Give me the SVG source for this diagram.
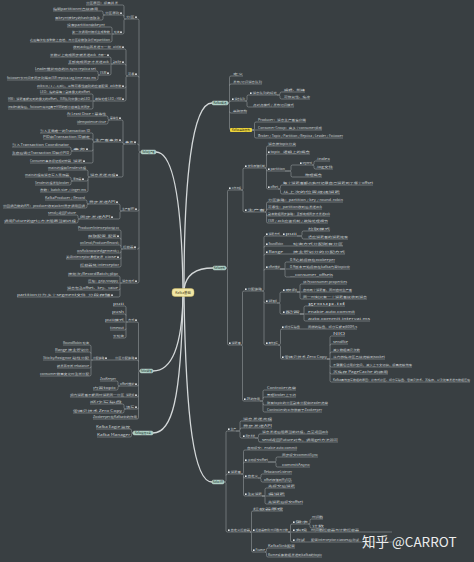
<svg xmlns="http://www.w3.org/2000/svg" width="474" height="562" viewBox="0 0 474 562">
<style>
.t{font-family:"Noto Sans CJK SC","Noto Sans",sans-serif;font-size:2.8px;fill:#cbd0d2}
.u{fill:none;stroke:#a4aaad;stroke-width:.5}
.c{fill:none;stroke:#a4aaad;stroke-width:.5}
.m{fill:none;stroke:#d4d8d9;stroke-width:1.3;stroke-linecap:round}
.k{fill:#e6e9ea}
.mn{fill:#a8ccc1;stroke:#d3e6e0;stroke-width:.4}
.mt{font-family:"Noto Sans CJK SC","Noto Sans",sans-serif;font-size:2.8px;fill:#24332f;text-anchor:middle}
</style>
<defs><rect id="mk" class="k" width="1.6" height="1.6"/></defs>
<rect width="474" height="562" fill="#393f42"/>
<g id="connectors">
<path class="m" d="M183 289C182 220 176 152 156 152"/>
<path class="m" d="M184 289C184 180 192 103 212 103"/>
<path class="m" d="M184 289C186 274 196 268 213 268"/>
<path class="m" d="M183 296C182 345 172 371 153 371"/>
<path class="m" d="M183 296C181 400 172 433 153 433"/>
<path class="m" d="M184 296C186 420 194 482 212 482"/>
<path class="c" d="M141 152H140.5Q139 152 139 150.5V20.5Q139 19 137.5 19H137M141 152H140.5Q139 152 139 153.5V281.5Q139 283 137.5 283H137M139 77.5Q139 76 137.5 76H137M139 145.5Q139 144 137.5 144H137M139 209.5Q139 211 137.5 211H137M139 247.5Q139 249 137.5 249H137"/>
<path class="c" d="M126 19H125.5Q124 19 124 17.5V6.5Q124 5 122.5 5H118M126 19H125.5Q124 19 124 20.5V32.5Q124 34 122.5 34H122M124 16.5Q124 15 122.5 15H122"/>
<path class="c" d="M105 15H104.5Q103 15 103 13.5V12.5Q103 11 101.5 11H98M105 15H104.5Q103 15 103 16.5V18.5Q103 20 101.5 20H100"/>
<path class="c" d="M114 34H113.5Q112 34 112 32.5V28.5Q112 27 110.5 27H105M114 34H113.5Q112 34 112 35.5V40.5Q112 42 110.5 42H110M112 34H110"/>
<path class="c" d="M128 76H127.5Q126 76 126 74.5V50.5Q126 49 124.5 49H124M128 76H127.5Q126 76 126 77.5V99.5Q126 101 124.5 101H124M126 65.5Q126 64 124.5 64H124M126 86.5Q126 88 124.5 88H124"/>
<path class="c" d="M113 49H111M98 57H96M110 88H108"/>
<path class="c" d="M113 64H112.5Q111 64 111 62.5V58.5Q111 57 109.5 57H109M113 64H112.5Q111 64 111 65.5V73.5Q111 75 109.5 75H109M111 64H109"/>
<path class="c" d="M100 75H99.5Q98 75 98 73.5V72.5Q98 71 96.5 71H96M100 75H99.5Q98 75 98 76.5V78.5Q98 80 96.5 80H96"/>
<path class="c" d="M95 101H94.5Q93 101 93 99.5V95.5Q93 94 91.5 94H90M95 101H94.5Q93 101 93 102.5V107.5Q93 109 91.5 109H90M93 101H90"/>
<path class="c" d="M125 144H124.5Q123 144 123 142.5V121.5Q123 120 121.5 120H121M125 144H124.5Q123 144 123 145.5V175.5Q123 177 121.5 177H118M123 143.5Q123 142 121.5 142H121"/>
<path class="c" d="M110 120H109.5Q108 120 108 118.5V117.5Q108 116 106.5 116H106M110 120H109.5Q108 120 108 121.5V122.5Q108 124 106.5 124H106"/>
<path class="c" d="M95 142H94.5Q93 142 93 140.5V134.5Q93 133 91.5 133H90M95 142H94.5Q93 142 93 143.5V161.5Q93 163 91.5 163H85M93 140.5Q93 139 91.5 139H90M93 149.5Q93 151 91.5 151H88"/>
<path class="c" d="M73 151H72.5Q71 151 71 149.5V148.5Q71 147 69.5 147H69M73 151H72.5Q71 151 71 152.5V153.5Q71 155 69.5 155H69M73 163H71"/>
<path class="c" d="M90 177H89.5Q88 177 88 175.5V171.5Q88 170 86.5 170H86M90 177H89.5Q88 177 88 178.5V190.5Q88 192 86.5 192H86M88 179.5Q88 181 86.5 181H84"/>
<path class="c" d="M73 181H72.5Q71 181 71 179.5V178.5Q71 177 69.5 177H69M73 181H72.5Q71 181 71 182.5V183.5Q71 185 69.5 185H69"/>
<path class="c" d="M122 211H121.5Q120 211 120 209.5V205.5Q120 204 118.5 204H118M122 211H121.5Q120 211 120 212.5V217.5Q120 219 118.5 219H113"/>
<path class="c" d="M89 204H88.5Q87 204 87 202.5V201.5Q87 200 85.5 200H85M89 204H88.5Q87 204 87 205.5V206.5Q87 208 85.5 208H85"/>
<path class="c" d="M80 219H79.5Q78 219 78 217.5V216.5Q78 215 76.5 215H76M80 219H79.5Q78 219 78 220.5V221.5Q78 223 76.5 223H76"/>
<path class="c" d="M123 249H122.5Q121 249 121 247.5V231.5Q121 230 119.5 230H119M123 249H122.5Q121 249 121 250.5V265.5Q121 267 119.5 267H119M121 239.5Q121 238 119.5 238H119M121 246.5Q121 245 119.5 245H119M121 251.5Q121 253 119.5 253H119M121 257.5Q121 259 119.5 259H119M108 238H106M105 259H103"/>
<path class="c" d="M122 283H121.5Q120 283 120 281.5V277.5Q120 276 118.5 276H118M122 283H121.5Q120 283 120 284.5V295.5Q120 297 118.5 297H113M120 283H118M120 288.5Q120 290 118.5 290H118M88 297H86"/>
<path class="c" d="M140 371Q138.5 371 138.5 369.5V323.5Q138.5 322 137 322M140 371Q138.5 371 138.5 372.5V417.5Q138.5 419 137 419M138.5 361.5Q138.5 360 137 360M138.5 384.5Q138.5 386 137 386M138.5 395.5Q138.5 397 137 397M138.5 407.5Q138.5 409 137 409"/>
<path class="c" d="M128 322H127.5Q126 322 126 320.5V307.5Q126 306 124.5 306H124M128 322H127.5Q126 322 126 323.5V336.5Q126 338 124.5 338H124M126 322H124M126 315.5Q126 314 124.5 314H124M126 328.5Q126 330 124.5 330H124"/>
<path class="c" d="M115 360H107M93 360H92.5Q91 360 91 358.5V346.5Q91 345 89.5 345H89M93 360H92.5Q91 360 91 361.5V374.5Q91 376 89.5 376H89M91 360H89M91 353.5Q91 352 89.5 352H89M91 366.5Q91 368 89.5 368H89"/>
<path class="c" d="M120 386H119.5Q118 386 118 384.5V382.5Q118 381 116.5 381H116M120 386H119.5Q118 386 118 387.5V388.5Q118 390 116.5 390H116M126 397H124"/>
<path class="c" d="M126 409H125.5Q124 409 124 407.5V405.5Q124 404 122.5 404H122M126 409H125.5Q124 409 124 410.5V411.5Q124 413 122.5 413H122"/>
<path class="c" d="M133 433Q131.5 433 131.5 431.5V430.5Q131.5 429 130 429M133 433Q131.5 433 131.5 434.5V435.5Q131.5 437 130 437"/>
<path class="c" d="M228 103Q229.5 103 229.5 101.5V77.5Q229.5 76 231 76H233M228 103Q229.5 103 229.5 104.5V128.5Q229.5 130 231 130M229.5 85.5Q229.5 84 231 84H233M229.5 102.5Q229.5 101 231 101H232M229.5 111.5Q229.5 113 231 113H233"/>
<path class="c" d="M245 101H245.5Q247 101 247 99.5V96.5Q247 95 248.5 95H250M245 101H245.5Q247 101 247 102.5V105.5Q247 107 248.5 107H253"/>
<path class="c" d="M277 95H278.5Q280 95 280 93.5Q280 92 281.5 92H284M277 95H278.5Q280 95 280 96.5V97.5Q280 99 281.5 99H284"/>
<path class="c" d="M252 130H253Q254.5 130 254.5 128.5V123.5Q254.5 122 256 122H258M252 130H253Q254.5 130 254.5 131.5V136.5Q254.5 138 256 138H258M252 130H258"/>
<path class="c" d="M226 268Q227.5 268 227.5 266.5V191.5Q227.5 190 229 190M226 268Q227.5 268 227.5 269.5V343.5Q227.5 345 229 345"/>
<path class="c" d="M241 190H241.5Q243 190 243 188.5V169.5Q243 168 244.5 168H245M241 190H241.5Q243 190 243 191.5V210.5Q243 212 244.5 212H245"/>
<path class="c" d="M265 168Q266.5 168 266.5 166.5V147.5Q266.5 146 268 146M265 168Q266.5 168 266.5 169.5V187.5Q266.5 189 268 189M266.5 155.5Q266.5 154 268 154M266.5 169.5Q266.5 171 268 171M280 154H283"/>
<path class="c" d="M285 171H289.5Q291 171 291 169.5V166.5Q291 165 292.5 165H300M285 171H289.5Q291 171 291 172.5V175.5Q291 177 292.5 177H305"/>
<path class="c" d="M312 165H312.5Q314 165 314 163.5V162.5Q314 161 315.5 161H316M312 165H312.5Q314 165 314 166.5V167.5Q314 169 315.5 169H316"/>
<path class="c" d="M278 189H279Q280.5 189 280.5 187.5V186.5Q280.5 185 282 185H283M278 189H279Q280.5 189 280.5 190.5V192.5Q280.5 194 282 194H283"/>
<path class="c" d="M265 212Q266.5 212 266.5 210.5V203.5Q266.5 202 268 202M265 212Q266.5 212 266.5 213.5V221.5Q266.5 223 268 223M266.5 210.5Q266.5 209 268 209M266.5 214.5Q266.5 216 268 216"/>
<path class="c" d="M241 345Q242.5 345 242.5 343.5V292.5Q242.5 291 244 291H245M241 345Q242.5 345 242.5 346.5V399.5Q242.5 401 244 401"/>
<path class="c" d="M262 291H262.5Q264 291 264 289.5V237.5Q264 236 265.5 236H266M262 291H262.5Q264 291 264 292.5V343.5Q264 345 265.5 345H266M264 247.5Q264 246 265.5 246H266M264 255.5Q264 254 265.5 254H266M264 270.5Q264 269 265.5 269H266M264 301.5Q264 303 265.5 303H266"/>
<path class="c" d="M280 236H283M297 236H300.5Q302 236 302 234.5V232.5Q302 231 303.5 231H308M297 236H300.5Q302 236 302 237.5Q302 239 303.5 239H308M283 246H293M283 254H293"/>
<path class="c" d="M280 269H283.5Q285 269 285 267.5V263.5Q285 262 286.5 262H290M280 269H283.5Q285 269 285 270.5V275.5Q285 277 286.5 277H290M280 269H290"/>
<path class="c" d="M277 303H278.5Q280 303 280 301.5V293.5Q280 292 281.5 292H283M277 303H278.5Q280 303 280 304.5V312.5Q280 314 281.5 314H283"/>
<path class="c" d="M297 292H298.5Q300 292 300 290.5V285.5Q300 284 301.5 284H303M297 292H298.5Q300 292 300 293.5V297.5Q300 299 301.5 299H303M297 292H303"/>
<path class="c" d="M300 314H302.5Q304 314 304 312.5V307.5Q304 306 305.5 306H308M300 314H302.5Q304 314 304 315.5V319.5Q304 321 305.5 321H308M300 314H308"/>
<path class="c" d="M278 345Q280.5 345 280.5 343.5V330.5Q280.5 329 282 329M278 345Q280.5 345 280.5 346.5V357.5Q280.5 359 282 359M300 329H308"/>
<path class="c" d="M327 359H328.5Q330 359 330 357.5V337.5Q330 336 331.5 336H333M327 359H328.5Q330 359 330 360.5V380.5Q330 382 331.5 382H333M327 359H333M330 345.5Q330 344 331.5 344H333M330 353.5Q330 352 331.5 352H333M330 365.5Q330 367 331.5 367H333M330 372.5Q330 374 331.5 374H333"/>
<path class="c" d="M260 401H261.5Q263 401 263 399.5V391.5Q263 390 264.5 390H267M260 401H261.5Q263 401 263 402.5V410.5Q263 412 264.5 412H267M263 398.5Q263 397 264.5 397H267M263 403.5Q263 405 264.5 405H267"/>
<path class="c" d="M224 482H224.5Q226 482 226 480.5V432.5Q226 431 227.5 431H228M224 482H224.5Q226 482 226 483.5V530.5Q226 532 227.5 532H228M226 475.5Q226 474 227.5 474H228"/>
<path class="c" d="M236 431H238.5Q240 431 240 429.5V422.5Q240 421 241.5 421H243M236 431H238.5Q240 431 240 432.5V436.5Q240 438 241.5 438H243M240 429.5Q240 428 241.5 428H243"/>
<path class="c" d="M255 438H257Q258.5 438 258.5 436.5V435.5Q258.5 434 260 434H262M255 438H257Q258.5 438 258.5 439.5V440.5Q258.5 442 260 442H262"/>
<path class="c" d="M241 474H242Q243.5 474 243.5 472.5V451.5Q243.5 450 245 450H247M241 474H242Q243.5 474 243.5 475.5V494.5Q243.5 496 245 496M243.5 463.5Q243.5 462 245 462M243.5 476.5Q243.5 478 245 478"/>
<path class="c" d="M268 462H274.5Q276 462 276 460.5V458.5Q276 457 277.5 457H282M268 462H274.5Q276 462 276 463.5V465.5Q276 467 277.5 467H282"/>
<path class="c" d="M258 478H259.5Q261 478 261 476.5V475.5Q261 474 262.5 474H264M258 478H259.5Q261 478 261 479.5V480.5Q261 482 262.5 482H264"/>
<path class="c" d="M262 496H263.5Q265 496 265 494.5V489.5Q265 488 266.5 488H268M262 496H263.5Q265 496 265 497.5V502.5Q265 504 266.5 504H268M262 496H268"/>
<path class="c" d="M250 532Q251.5 532 251.5 530.5V512.5Q251.5 511 253 511M250 532Q251.5 532 251.5 533.5V550.5Q251.5 552 253 552M250 532H253"/>
<path class="c" d="M288 532H289Q290.5 532 290.5 530.5V525.5Q290.5 524 292 524H293M288 532H289Q290.5 532 290.5 533.5V540.5Q290.5 542 292 542H293M288 532H293M307 532H311M305 542H311"/>
<path class="c" d="M308 524H308.5Q310 524 310 522.5V520.5Q310 519 311.5 519H312M308 524H308.5Q310 524 310 525.5V526.5Q310 528 311.5 528H312"/>
<path class="c" d="M265 552Q266.5 552 266.5 550.5V549.5Q266.5 548 268 548M265 552Q266.5 552 266.5 553.5V555.5Q266.5 557 268 557"/>
</g>

<g id="center"><rect x="172" y="288.5" width="22" height="8" rx="3" fill="#f2e7a5" stroke="#cdb862" stroke-width=".5"/><text x="183" y="293.6" font-family="Noto Sans CJK SC, sans-serif" font-size="3.4" fill="#4a4322" text-anchor="middle">Kafka基础</text></g>
<g id="main-L1"><rect class="mn" x="141" y="150" width="15" height="4" rx="1.5"/><text class="mt" x="148.5" y="153" textLength="12" lengthAdjust="spacingAndGlyphs">Kafka生产者</text></g>
<g id="main-L2"><rect class="mn" x="140" y="369" width="13" height="4" rx="1.5"/><text class="mt" x="146.5" y="372" textLength="11" lengthAdjust="spacingAndGlyphs">Kafka消费者</text></g>
<g id="main-L3"><rect class="mn" x="133" y="431" width="20" height="4" rx="1.5"/><text class="mt" x="143" y="434" textLength="16" lengthAdjust="spacingAndGlyphs">Kafka监控工具</text></g>
<g id="main-R1"><rect class="mn" x="212" y="101" width="16" height="4" rx="1.5"/><text class="mt" x="220" y="104" textLength="13" lengthAdjust="spacingAndGlyphs">Kafka概述</text></g>
<g id="main-R2"><rect class="mn" x="213" y="266" width="13" height="4" rx="1.5"/><text class="mt" x="219.5" y="269" textLength="11" lengthAdjust="spacingAndGlyphs">Kafka架构</text></g>
<g id="main-R3"><rect class="mn" x="212" y="480" width="12" height="4" rx="1.5"/><text class="mt" x="218" y="483" textLength="10" lengthAdjust="spacingAndGlyphs">Kafka API</text></g>

<g id="L1-nodes">
<g id="a"><path class="u" d="M126 19H137"/><use href="#mk" x="135.2" y="16.4"/><text class="t" x="126" y="18.2" textLength="8.4" lengthAdjust="spacingAndGlyphs">分区</text></g>
<g id="a1"><path class="u" d="M86 5H118"/><text class="t" x="86" y="4.2" textLength="32" lengthAdjust="spacingAndGlyphs">分区原因：提高并发</text></g>
<g id="a2"><path class="u" d="M105 15H122"/><use href="#mk" x="120.2" y="12.4"/><text class="t" x="105" y="14.2" textLength="14.4" lengthAdjust="spacingAndGlyphs">分区原则</text></g>
<g id="a2-1"><path class="u" d="M53 11H98"/><text class="t" x="53" y="10.2" textLength="45" lengthAdjust="spacingAndGlyphs">指明partition时直接使用</text></g>
<g id="a2-2"><path class="u" d="M55 20H100"/><text class="t" x="55" y="19.2" textLength="45" lengthAdjust="spacingAndGlyphs">有key时按key的hash值取余</text></g>
<g id="a3"><path class="u" d="M114 34H122"/><use href="#mk" x="120.2" y="31.4"/><text class="t" x="114" y="33.2" textLength="5.4" lengthAdjust="spacingAndGlyphs">轮询</text></g>
<g id="a3-1"><path class="u" d="M67 27H105"/><text class="t" x="67" y="26.2" textLength="38" lengthAdjust="spacingAndGlyphs">没有partition和key时</text></g>
<g id="a3-2"><path class="u" d="M72 34H110"/><text class="t" x="72" y="33.2" textLength="38" lengthAdjust="spacingAndGlyphs">第一次调用时随机生成整数</text></g>
<g id="a3-3"><path class="u" d="M30 42H110"/><text class="t" x="30" y="41.2" textLength="80" lengthAdjust="spacingAndGlyphs">之后每次在该整数上自增，与分区总数取余得到partition</text></g>
<g id="b"><path class="u" d="M128 76H137"/><use href="#mk" x="135.2" y="73.4"/><text class="t" x="128" y="75.2" textLength="6.4" lengthAdjust="spacingAndGlyphs">可靠</text></g>
<g id="b1"><path class="u" d="M113 49H124"/><use href="#mk" x="122.2" y="46.4"/><text class="t" x="113" y="48.2" textLength="8.4" lengthAdjust="spacingAndGlyphs">ack机制</text></g>
<g id="b1-1"><path class="u" d="M73 49H111"/><text class="t" x="73" y="48.2" textLength="38" lengthAdjust="spacingAndGlyphs">收到ack后再发送下一批</text></g>
<g id="b2"><path class="u" d="M113 64H124"/><use href="#mk" x="122.2" y="61.4"/><text class="t" x="113" y="63.2" textLength="8.4" lengthAdjust="spacingAndGlyphs">副本同步</text></g>
<g id="b2a"><path class="u" d="M98 57H109"/><use href="#mk" x="107.2" y="54.4"/><text class="t" x="98" y="56.2" textLength="8.4" lengthAdjust="spacingAndGlyphs">方案一</text></g>
<g id="b2a-1"><path class="u" d="M50 57H96"/><text class="t" x="50" y="56.2" textLength="46" lengthAdjust="spacingAndGlyphs">半数以上完成同步就发送ack</text></g>
<g id="b2-2"><path class="u" d="M68 64H109"/><text class="t" x="68" y="63.2" textLength="41" lengthAdjust="spacingAndGlyphs">全部完成同步才发送ack</text></g>
<g id="b2b"><path class="u" d="M100 75H109"/><use href="#mk" x="107.2" y="72.4"/><text class="t" x="100" y="74.2" textLength="6.4" lengthAdjust="spacingAndGlyphs">ISR</text></g>
<g id="b2b-1"><path class="u" d="M35 71H96"/><text class="t" x="35" y="70.2" textLength="61" lengthAdjust="spacingAndGlyphs">Leader维护动态的in-sync replica set</text></g>
<g id="b2b-2"><path class="u" d="M7 80H96"/><text class="t" x="7" y="79.2" textLength="89" lengthAdjust="spacingAndGlyphs">follower长时间未同步则踢出ISR replica.lag.time.max.ms</text></g>
<g id="b3"><path class="u" d="M110 88H124"/><use href="#mk" x="122.2" y="85.4"/><text class="t" x="110" y="87.2" textLength="11.4" lengthAdjust="spacingAndGlyphs">ack参数</text></g>
<g id="b3-1"><path class="u" d="M37 88H108"/><text class="t" x="37" y="87.2" textLength="71" lengthAdjust="spacingAndGlyphs">acks=0 / 1 / -1(all)，三种可靠性级别的应答配置</text></g>
<g id="b4"><path class="u" d="M95 101H124"/><use href="#mk" x="122.2" y="98.4"/><text class="t" x="95" y="100.2" textLength="26.4" lengthAdjust="spacingAndGlyphs">故障处理 LEO / HW</text></g>
<g id="b4-1"><path class="u" d="M40 94H90"/><text class="t" x="40" y="93.2" textLength="50" lengthAdjust="spacingAndGlyphs">LEO：指的是每个副本最大的offset</text></g>
<g id="b4-2"><path class="u" d="M8 101H90"/><text class="t" x="8" y="100.2" textLength="82" lengthAdjust="spacingAndGlyphs">HW：消费者能见到的最大的offset，ISR队列中最小的LEO</text></g>
<g id="b4-3"><path class="u" d="M8 109H90"/><text class="t" x="8" y="108.2" textLength="82" lengthAdjust="spacingAndGlyphs">leader故障后，follower将log高于HW的部分截掉重新同步</text></g>
<g id="c"><path class="u" d="M125 144H136"/><use href="#mk" x="134.2" y="141.4"/><text class="t" x="125" y="143.2" textLength="8.4" lengthAdjust="spacingAndGlyphs">事务</text></g>
<g id="c1"><path class="u" d="M110 120H121"/><use href="#mk" x="119.2" y="117.4"/><text class="t" x="110" y="119.2" textLength="8.4" lengthAdjust="spacingAndGlyphs">幂等性</text></g>
<g id="c1-1"><path class="u" d="M67 116H106"/><text class="t" x="67" y="115.2" textLength="39" lengthAdjust="spacingAndGlyphs">At Least Once + 幂等性</text></g>
<g id="c1-2"><path class="u" d="M77 124H106"/><text class="t" x="77" y="123.2" textLength="29" lengthAdjust="spacingAndGlyphs">idempotence=true</text></g>
<g id="c2"><path class="u" d="M95 142H121"/><use href="#mk" x="119.2" y="139.4"/><text class="t" x="95" y="141.2" textLength="23.4" lengthAdjust="spacingAndGlyphs">生产者事务</text></g>
<g id="c2-1"><path class="u" d="M40 133H90"/><text class="t" x="40" y="132.2" textLength="50" lengthAdjust="spacingAndGlyphs">引入全局唯一的Transaction ID</text></g>
<g id="c2-2"><path class="u" d="M43 139H90"/><text class="t" x="43" y="138.2" textLength="47" lengthAdjust="spacingAndGlyphs">PID和Transaction ID绑定</text></g>
<g id="c2a"><path class="u" d="M73 151H88"/><use href="#mk" x="86.2" y="148.4"/><text class="t" x="73" y="150.2" textLength="12.4" lengthAdjust="spacingAndGlyphs">事务</text></g>
<g id="c2a-1"><path class="u" d="M12 147H69"/><text class="t" x="12" y="146.2" textLength="57" lengthAdjust="spacingAndGlyphs">引入Transaction Coordinator</text></g>
<g id="c2a-2"><path class="u" d="M12 155H69"/><text class="t" x="12" y="154.2" textLength="57" lengthAdjust="spacingAndGlyphs">重启后通过Transaction ID获得PID</text></g>
<g id="c2b"><path class="u" d="M73 163H85"/><use href="#mk" x="83.2" y="160.4"/><text class="t" x="73" y="162.2" textLength="9.4" lengthAdjust="spacingAndGlyphs">消费</text></g>
<g id="c2b-1"><path class="u" d="M30 163H71"/><text class="t" x="30" y="162.2" textLength="41" lengthAdjust="spacingAndGlyphs">Consumer事务保证相对较弱</text></g>
<g id="d1"><path class="u" d="M90 177H118"/><use href="#mk" x="116.2" y="174.4"/><text class="t" x="90" y="176.2" textLength="25.4" lengthAdjust="spacingAndGlyphs">消息发送流程</text></g>
<g id="d1-1"><path class="u" d="M48 170H86"/><text class="t" x="48" y="169.2" textLength="38" lengthAdjust="spacingAndGlyphs">main线程和Sender线程</text></g>
<g id="d1a"><path class="u" d="M73 181H84"/><use href="#mk" x="82.2" y="178.4"/><text class="t" x="73" y="180.2" textLength="8.4" lengthAdjust="spacingAndGlyphs">累加器</text></g>
<g id="d1a-1"><path class="u" d="M25 177H69"/><text class="t" x="25" y="176.2" textLength="44" lengthAdjust="spacingAndGlyphs">main线程将消息写入累加器</text></g>
<g id="d1a-2"><path class="u" d="M35 185H69"/><text class="t" x="35" y="184.2" textLength="34" lengthAdjust="spacingAndGlyphs">Sender线程发往broker</text></g>
<g id="d1-3"><path class="u" d="M40 192H86"/><text class="t" x="40" y="191.2" textLength="46" lengthAdjust="spacingAndGlyphs">参数：batch.size / linger.ms</text></g>
<g id="d"><path class="u" d="M122 211H137"/><use href="#mk" x="135.2" y="208.4"/><text class="t" x="122" y="210.2" textLength="12.4" lengthAdjust="spacingAndGlyphs">生产者API</text></g>
<g id="d2"><path class="u" d="M89 204H118"/><use href="#mk" x="116.2" y="201.4"/><text class="t" x="89" y="203.2" textLength="26.4" lengthAdjust="spacingAndGlyphs">异步发送API</text></g>
<g id="d2-1"><path class="u" d="M45 200H85"/><text class="t" x="45" y="199.2" textLength="40" lengthAdjust="spacingAndGlyphs">KafkaProducer / Record</text></g>
<g id="d2-2"><path class="u" d="M3 208H85"/><text class="t" x="3" y="207.2" textLength="82" lengthAdjust="spacingAndGlyphs">带回调函数的API：producer收到ack时异步调用回调</text></g>
<g id="d3"><path class="u" d="M80 219H113"/><use href="#mk" x="111.2" y="216.4"/><text class="t" x="80" y="218.2" textLength="30.4" lengthAdjust="spacingAndGlyphs">同步发送API</text></g>
<g id="d3-1"><path class="u" d="M48 215H76"/><text class="t" x="48" y="214.2" textLength="28" lengthAdjust="spacingAndGlyphs">send()返回Future</text></g>
<g id="d3-2"><path class="u" d="M4 223H76"/><text class="t" x="4" y="222.2" textLength="72" lengthAdjust="spacingAndGlyphs">调用Future的get()方法阻塞当前线程</text></g>
<g id="e"><path class="u" d="M123 249H136"/><use href="#mk" x="134.2" y="246.4"/><text class="t" x="123" y="248.2" textLength="10.4" lengthAdjust="spacingAndGlyphs">拦截器</text></g>
<g id="e-1"><path class="u" d="M78 230H119"/><text class="t" x="78" y="229.2" textLength="41" lengthAdjust="spacingAndGlyphs">ProducerInterceptor接口</text></g>
<g id="e1"><path class="u" d="M108 238H119"/><use href="#mk" x="117.2" y="235.4"/><text class="t" x="108" y="237.2" textLength="8.4" lengthAdjust="spacingAndGlyphs">配置</text></g>
<g id="e1-1"><path class="u" d="M88 238H106"/><text class="t" x="88" y="237.2" textLength="18" lengthAdjust="spacingAndGlyphs">获取配置</text></g>
<g id="e-3"><path class="u" d="M80 245H119"/><text class="t" x="80" y="244.2" textLength="39" lengthAdjust="spacingAndGlyphs">onSend(ProducerRecord)</text></g>
<g id="e-4"><path class="u" d="M77 253H119"/><text class="t" x="77" y="252.2" textLength="42" lengthAdjust="spacingAndGlyphs">onAcknowledgement()</text></g>
<g id="e2"><path class="u" d="M105 259H119"/><use href="#mk" x="117.2" y="256.4"/><text class="t" x="105" y="258.2" textLength="11.4" lengthAdjust="spacingAndGlyphs">close</text></g>
<g id="e2-1"><path class="u" d="M66 259H103"/><text class="t" x="66" y="258.2" textLength="37" lengthAdjust="spacingAndGlyphs">关闭interceptor清理资源</text></g>
<g id="e-6"><path class="u" d="M80 267H119"/><text class="t" x="80" y="266.2" textLength="39" lengthAdjust="spacingAndGlyphs">拦截器链 interceptor</text></g>
<g id="f"><path class="u" d="M122 283H137"/><use href="#mk" x="135.2" y="280.4"/><text class="t" x="122" y="282.2" textLength="12.4" lengthAdjust="spacingAndGlyphs">消息格式</text></g>
<g id="f-1"><path class="u" d="M68 276H118"/><text class="t" x="68" y="275.2" textLength="50" lengthAdjust="spacingAndGlyphs">按批次(RecordBatch)组织</text></g>
<g id="f-2"><path class="u" d="M88 283H118"/><text class="t" x="88" y="282.2" textLength="30" lengthAdjust="spacingAndGlyphs">压缩：gzip/snappy</text></g>
<g id="f-3"><path class="u" d="M67 290H118"/><text class="t" x="67" y="289.2" textLength="51" lengthAdjust="spacingAndGlyphs">消息包含offset、key、value</text></g>
<g id="f1"><path class="u" d="M88 297H113"/><use href="#mk" x="111.2" y="294.4"/><text class="t" x="88" y="296.2" textLength="22.4" lengthAdjust="spacingAndGlyphs">分段存储</text></g>
<g id="f1-1"><path class="u" d="M17 297H86"/><text class="t" x="17" y="296.2" textLength="69" lengthAdjust="spacingAndGlyphs">partition分为多个segment文件</text></g>
</g>

<g id="L2-nodes">
<g id="g"><path class="u" d="M128 322H137"/><use href="#mk" x="135.2" y="319.4"/><text class="t" x="128" y="321.2" textLength="6.4" lengthAdjust="spacingAndGlyphs">方式</text></g>
<g id="g-1"><path class="u" d="M113 306H124"/><text class="t" x="113" y="305.2" textLength="11" lengthAdjust="spacingAndGlyphs">pull</text></g>
<g id="g-2"><path class="u" d="M112 314H124"/><text class="t" x="112" y="313.2" textLength="12" lengthAdjust="spacingAndGlyphs">push</text></g>
<g id="g-3"><path class="u" d="M105 322H124"/><text class="t" x="105" y="321.2" textLength="19" lengthAdjust="spacingAndGlyphs">pull模式</text></g>
<g id="g-4"><path class="u" d="M110 330H124"/><text class="t" x="110" y="329.2" textLength="14" lengthAdjust="spacingAndGlyphs">timeout</text></g>
<g id="g-5"><path class="u" d="M113 338H124"/><text class="t" x="113" y="337.2" textLength="11" lengthAdjust="spacingAndGlyphs">长轮询</text></g>
<g id="h"><path class="u" d="M115 360H137"/><use href="#mk" x="135.2" y="357.4"/><text class="t" x="115" y="359.2" textLength="19.4" lengthAdjust="spacingAndGlyphs">分区分配策略</text></g>
<g id="h1"><path class="u" d="M93 360H107"/><use href="#mk" x="105.2" y="357.4"/><text class="t" x="93" y="359.2" textLength="11.4" lengthAdjust="spacingAndGlyphs">分配策略</text></g>
<g id="h1-1"><path class="u" d="M63 345H89"/><text class="t" x="63" y="344.2" textLength="26" lengthAdjust="spacingAndGlyphs">RoundRobin 轮询</text></g>
<g id="h1-2"><path class="u" d="M55 352H89"/><text class="t" x="55" y="351.2" textLength="34" lengthAdjust="spacingAndGlyphs">Range 按主题划分</text></g>
<g id="h1-3"><path class="u" d="M43 360H89"/><text class="t" x="43" y="359.2" textLength="46" lengthAdjust="spacingAndGlyphs">StickyAssignor 粘性分配</text></g>
<g id="h1-4"><path class="u" d="M57 368H89"/><text class="t" x="57" y="367.2" textLength="32" lengthAdjust="spacingAndGlyphs">触发再平衡 rebalance</text></g>
<g id="h1-5"><path class="u" d="M40 376H89"/><text class="t" x="40" y="375.2" textLength="49" lengthAdjust="spacingAndGlyphs">consumer数量变化时重新分配</text></g>
<g id="i"><path class="u" d="M120 386H137"/><use href="#mk" x="135.2" y="383.4"/><text class="t" x="120" y="385.2" textLength="14.4" lengthAdjust="spacingAndGlyphs">offset维护</text></g>
<g id="i-1"><path class="u" d="M100 381H116"/><text class="t" x="100" y="380.2" textLength="16" lengthAdjust="spacingAndGlyphs">ZooKeeper</text></g>
<g id="i-2"><path class="u" d="M93 390H116"/><text class="t" x="93" y="389.2" textLength="23" lengthAdjust="spacingAndGlyphs">内置topic</text></g>
<g id="j"><path class="u" d="M126 397H137"/><use href="#mk" x="135.2" y="394.4"/><text class="t" x="126" y="396.2" textLength="8.4" lengthAdjust="spacingAndGlyphs">消费组</text></g>
<g id="j-1"><path class="u" d="M70 397H124"/><text class="t" x="70" y="396.2" textLength="54" lengthAdjust="spacingAndGlyphs">组内消费者不能同时消费同一分区</text></g>
<g id="k"><path class="u" d="M126 409H137"/><use href="#mk" x="135.2" y="406.4"/><text class="t" x="126" y="408.2" textLength="8.4" lengthAdjust="spacingAndGlyphs">读写</text></g>
<g id="k-1"><path class="u" d="M90 404H122"/><text class="t" x="90" y="403.2" textLength="32" lengthAdjust="spacingAndGlyphs">顺序写磁盘</text></g>
<g id="k-2"><path class="u" d="M73 413H122"/><text class="t" x="73" y="412.2" textLength="49" lengthAdjust="spacingAndGlyphs">零拷贝技术 Zero Copy</text></g>
<g id="l"><path class="u" d="M93 419H137"/><text class="t" x="93" y="418.2" textLength="44" lengthAdjust="spacingAndGlyphs">Zookeeper在Kafka中的作用</text></g>
</g>

<g id="L3-nodes">
<g id="L3-1"><path class="u" d="M96 429H130"/><text class="t" x="96" y="428.2" textLength="34" lengthAdjust="spacingAndGlyphs">Kafka Eagle 监控</text></g>
<g id="L3-2"><path class="u" d="M97 437H130"/><text class="t" x="97" y="436.2" textLength="33" lengthAdjust="spacingAndGlyphs">Kafka Manager</text></g>
</g>

<g id="R1-nodes">
<g id="r1a"><path class="u" d="M233 76H243"/><text class="t" x="233" y="75.2" textLength="10" lengthAdjust="spacingAndGlyphs">定义</text></g>
<g id="r1b"><path class="u" d="M233 84H262"/><text class="t" x="233" y="83.2" textLength="29" lengthAdjust="spacingAndGlyphs">发布/订阅消息队列</text></g>
<g id="m"><path class="u" d="M232 101H245"/><use href="#mk" x="232" y="98.4"/><text class="t" x="234.4" y="100.2" textLength="10.6" lengthAdjust="spacingAndGlyphs">消息队列</text></g>
<g id="m1"><path class="u" d="M250 95H277"/><use href="#mk" x="250" y="92.4"/><text class="t" x="252.4" y="94.2" textLength="24.6" lengthAdjust="spacingAndGlyphs">消息队列的好处</text></g>
<g id="m1-1"><path class="u" d="M284 92H305"/><text class="t" x="284" y="91.2" textLength="21" lengthAdjust="spacingAndGlyphs">解耦、削峰</text></g>
<g id="m1-2"><path class="u" d="M284 99H310"/><text class="t" x="284" y="98.2" textLength="26" lengthAdjust="spacingAndGlyphs">可恢复性、缓冲</text></g>
<g id="m-2"><path class="u" d="M253 107H294"/><text class="t" x="253" y="106.2" textLength="41" lengthAdjust="spacingAndGlyphs">点对点模式 / 发布订阅模式</text></g>
<g id="r1d"><path class="u" d="M233 113H247"/><text class="t" x="233" y="112.2" textLength="14" lengthAdjust="spacingAndGlyphs">基础架构</text></g>
<g id="Y"><rect x="230" y="128" width="22" height="4" rx="1" fill="#ecd43c"/><text x="241" y="131" font-family="Noto Sans CJK SC, sans-serif" font-size="2.8" fill="#3a3410" text-anchor="middle" textLength="18" lengthAdjust="spacingAndGlyphs">Kafka基础架构</text></g>
<g id="Y-1"><path class="u" d="M258 122H306"/><text class="t" x="258" y="121.2" textLength="48" lengthAdjust="spacingAndGlyphs">Producer：消息生产者客户端</text></g>
<g id="Y-2"><path class="u" d="M258 130H322"/><text class="t" x="258" y="129.2" textLength="64" lengthAdjust="spacingAndGlyphs">Consumer Group：由多个consumer组成</text></g>
<g id="Y-3"><path class="u" d="M258 138H343"/><text class="t" x="258" y="137.2" textLength="85" lengthAdjust="spacingAndGlyphs">Broker / Topic / Partition / Replica / Leader / Follower</text></g>
</g>

<g id="R2-nodes">
<g id="A"><path class="u" d="M229 190H241"/><use href="#mk" x="229" y="187.4"/><text class="t" x="231.4" y="189.2" textLength="9.6" lengthAdjust="spacingAndGlyphs">工作流程</text></g>
<g id="A1"><path class="u" d="M245 168H265"/><use href="#mk" x="245" y="165.4"/><text class="t" x="247.4" y="167.2" textLength="17.6" lengthAdjust="spacingAndGlyphs">文件存储机制</text></g>
<g id="A1-1"><path class="u" d="M268 146H296"/><text class="t" x="268" y="145.2" textLength="28" lengthAdjust="spacingAndGlyphs">消息按topic分类</text></g>
<g id="A1a"><path class="u" d="M268 154H280"/><use href="#mk" x="268" y="151.4"/><text class="t" x="270.4" y="153.2" textLength="9.6" lengthAdjust="spacingAndGlyphs">topic</text></g>
<g id="A1a-1"><path class="u" d="M283 154H310"/><text class="t" x="283" y="153.2" textLength="27" lengthAdjust="spacingAndGlyphs">逻辑上的概念</text></g>
<g id="A1b"><path class="u" d="M268 171H285"/><use href="#mk" x="268" y="168.4"/><text class="t" x="270.4" y="170.2" textLength="14.6" lengthAdjust="spacingAndGlyphs">partition</text></g>
<g id="A1b1"><path class="u" d="M300 165H312"/><use href="#mk" x="300" y="162.4"/><text class="t" x="302.4" y="164.2" textLength="9.6" lengthAdjust="spacingAndGlyphs">segment</text></g>
<g id="A1b1-1"><path class="u" d="M316 161H330"/><text class="t" x="316" y="160.2" textLength="14" lengthAdjust="spacingAndGlyphs">.index</text></g>
<g id="A1b1-2"><path class="u" d="M316 169H333"/><text class="t" x="316" y="168.2" textLength="17" lengthAdjust="spacingAndGlyphs">.log文件</text></g>
<g id="A1b-2"><path class="u" d="M305 177H322"/><text class="t" x="305" y="176.2" textLength="17" lengthAdjust="spacingAndGlyphs">物理概念</text></g>
<g id="A1c"><path class="u" d="M268 189H278"/><use href="#mk" x="268" y="186.4"/><text class="t" x="270.4" y="188.2" textLength="7.6" lengthAdjust="spacingAndGlyphs">offset</text></g>
<g id="A1c-1"><path class="u" d="M283 185H373"/><text class="t" x="283" y="184.2" textLength="90" lengthAdjust="spacingAndGlyphs">每个消费者都会实时记录自己消费到了哪个offset</text></g>
<g id="A1c-2"><path class="u" d="M283 194H340"/><text class="t" x="283" y="193.2" textLength="57" lengthAdjust="spacingAndGlyphs">从上次的位置继续消费</text></g>
<g id="A2"><path class="u" d="M245 212H265"/><use href="#mk" x="245" y="209.4"/><text class="t" x="247.4" y="211.2" textLength="17.6" lengthAdjust="spacingAndGlyphs">生产者</text></g>
<g id="A2-1"><path class="u" d="M268 202H343"/><text class="t" x="268" y="201.2" textLength="75" lengthAdjust="spacingAndGlyphs">分区策略：partition / key / round-robin</text></g>
<g id="A2-2"><path class="u" d="M268 209H322"/><text class="t" x="268" y="208.2" textLength="54" lengthAdjust="spacingAndGlyphs">可靠性：partition收到后发送ack</text></g>
<g id="A2-3"><path class="u" d="M268 216H330"/><text class="t" x="268" y="215.2" textLength="62" lengthAdjust="spacingAndGlyphs">副本数据同步策略：全部完成同步才发送ack</text></g>
<g id="A2-4"><path class="u" d="M268 223H328"/><text class="t" x="268" y="222.2" textLength="60" lengthAdjust="spacingAndGlyphs">ISR / ack应答机制 / 故障处理细节</text></g>
<g id="B"><path class="u" d="M229 345H241"/><use href="#mk" x="229" y="342.4"/><text class="t" x="231.4" y="344.2" textLength="9.6" lengthAdjust="spacingAndGlyphs">消费者</text></g>
<g id="B1"><path class="u" d="M245 291H262"/><use href="#mk" x="245" y="288.4"/><text class="t" x="247.4" y="290.2" textLength="14.6" lengthAdjust="spacingAndGlyphs">分配策略</text></g>
<g id="B1a"><path class="u" d="M266 236H280"/><use href="#mk" x="266" y="233.4"/><text class="t" x="268.4" y="235.2" textLength="11.6" lengthAdjust="spacingAndGlyphs">消费方式</text></g>
<g id="B1a1"><path class="u" d="M283 236H297"/><use href="#mk" x="283" y="233.4"/><text class="t" x="285.4" y="235.2" textLength="11.6" lengthAdjust="spacingAndGlyphs">pull</text></g>
<g id="B1a1-1"><path class="u" d="M308 231H330"/><text class="t" x="308" y="230.2" textLength="22" lengthAdjust="spacingAndGlyphs">拉取模式</text></g>
<g id="B1a1-2"><path class="u" d="M308 239H348"/><text class="t" x="308" y="238.2" textLength="40" lengthAdjust="spacingAndGlyphs">适应消费者的消费速率</text></g>
<g id="B1b"><path class="u" d="M266 246H283"/><use href="#mk" x="266" y="243.4"/><text class="t" x="268.4" y="245.2" textLength="14.6" lengthAdjust="spacingAndGlyphs">RoundRobin</text></g>
<g id="B1b-1"><path class="u" d="M293 246H343"/><text class="t" x="293" y="245.2" textLength="50" lengthAdjust="spacingAndGlyphs">轮询方式分配所有分区</text></g>
<g id="B1c"><path class="u" d="M266 254H283"/><use href="#mk" x="266" y="251.4"/><text class="t" x="268.4" y="253.2" textLength="14.6" lengthAdjust="spacingAndGlyphs">Range</text></g>
<g id="B1c-1"><path class="u" d="M293 254H345"/><text class="t" x="293" y="253.2" textLength="52" lengthAdjust="spacingAndGlyphs">按主题划分的分配方式</text></g>
<g id="B1d"><path class="u" d="M266 269H280"/><use href="#mk" x="266" y="266.4"/><text class="t" x="268.4" y="268.2" textLength="11.6" lengthAdjust="spacingAndGlyphs">offset维护</text></g>
<g id="B1d-1"><path class="u" d="M290 262H335"/><text class="t" x="290" y="261.2" textLength="45" lengthAdjust="spacingAndGlyphs">0.9之前保存在zookeeper</text></g>
<g id="B1d-2"><path class="u" d="M290 269H350"/><text class="t" x="290" y="268.2" textLength="60" lengthAdjust="spacingAndGlyphs">0.9版本开始保存在kafka内置topic中</text></g>
<g id="B1d-3"><path class="u" d="M290 277H333"/><text class="t" x="290" y="276.2" textLength="43" lengthAdjust="spacingAndGlyphs">__consumer_offsets</text></g>
<g id="B1e"><path class="u" d="M266 303H277"/><use href="#mk" x="266" y="300.4"/><text class="t" x="268.4" y="302.2" textLength="8.6" lengthAdjust="spacingAndGlyphs">消费者组</text></g>
<g id="B1e1"><path class="u" d="M283 292H297"/><use href="#mk" x="283" y="289.4"/><text class="t" x="285.4" y="291.2" textLength="11.6" lengthAdjust="spacingAndGlyphs">案例</text></g>
<g id="B1e1-1"><path class="u" d="M303 284H347"/><text class="t" x="303" y="283.2" textLength="44" lengthAdjust="spacingAndGlyphs">修改consumer.properties</text></g>
<g id="B1e1-2"><path class="u" d="M303 292H352"/><text class="t" x="303" y="291.2" textLength="49" lengthAdjust="spacingAndGlyphs">启动两个消费者，同时启动生产者</text></g>
<g id="B1e1-3"><path class="u" d="M303 299H367"/><text class="t" x="303" y="298.2" textLength="64" lengthAdjust="spacingAndGlyphs">同一时刻只有一个消费者接收到消息</text></g>
<g id="B1e2"><path class="u" d="M283 314H300"/><use href="#mk" x="283" y="311.4"/><text class="t" x="285.4" y="313.2" textLength="14.6" lengthAdjust="spacingAndGlyphs">配置</text></g>
<g id="B1e2-1"><path class="u" d="M308 306H345"/><text class="t" x="308" y="305.2" textLength="37" lengthAdjust="spacingAndGlyphs">group.id</text></g>
<g id="B1e2-2"><path class="u" d="M308 314H355"/><text class="t" x="308" y="313.2" textLength="47" lengthAdjust="spacingAndGlyphs">enable.auto.commit</text></g>
<g id="B1e2-3"><path class="u" d="M308 321H370"/><text class="t" x="308" y="320.2" textLength="62" lengthAdjust="spacingAndGlyphs">auto.commit.interval.ms</text></g>
<g id="B2"><path class="u" d="M266 345H278"/><use href="#mk" x="266" y="342.4"/><text class="t" x="268.4" y="344.2" textLength="9.6" lengthAdjust="spacingAndGlyphs">高效读写</text></g>
<g id="B2a"><path class="u" d="M282 329H300"/><use href="#mk" x="282" y="326.4"/><text class="t" x="284.4" y="328.2" textLength="15.6" lengthAdjust="spacingAndGlyphs">顺序写磁盘</text></g>
<g id="B2a-1"><path class="u" d="M308 329H357"/><text class="t" x="308" y="328.2" textLength="49" lengthAdjust="spacingAndGlyphs">同样的磁盘，顺序写能到600M/s</text></g>
<g id="B2b"><path class="u" d="M282 359H327"/><use href="#mk" x="282" y="356.4"/><text class="t" x="284.4" y="358.2" textLength="42.6" lengthAdjust="spacingAndGlyphs">零拷贝技术 Zero Copy</text></g>
<g id="B2b-1"><path class="u" d="M333 336H345"/><text class="t" x="333" y="335.2" textLength="12" lengthAdjust="spacingAndGlyphs">NIO</text></g>
<g id="B2b-2"><path class="u" d="M333 344H348"/><text class="t" x="333" y="343.2" textLength="15" lengthAdjust="spacingAndGlyphs">sendfile</text></g>
<g id="B2b-3"><path class="u" d="M333 352H360"/><text class="t" x="333" y="351.2" textLength="27" lengthAdjust="spacingAndGlyphs">减少数据拷贝次数</text></g>
<g id="B2b-4"><path class="u" d="M333 359H385"/><text class="t" x="333" y="358.2" textLength="52" lengthAdjust="spacingAndGlyphs">从内核缓冲区直接传输到socket</text></g>
<g id="B2b-5"><path class="u" d="M333 367H412"/><text class="t" x="333" y="366.2" textLength="79" lengthAdjust="spacingAndGlyphs">不需要经过用户空间，减少上下文切换，提高传输效率</text></g>
<g id="B2b-6"><path class="u" d="M333 374H388"/><text class="t" x="333" y="373.2" textLength="55" lengthAdjust="spacingAndGlyphs">页缓存 PageCache 的使用</text></g>
<g id="B2b-7"><path class="u" d="M333 382H470"/><text class="t" x="333" y="381.2" textLength="137" lengthAdjust="spacingAndGlyphs">Kafka高效读写数据的原因：分布式分区、顺序写磁盘、零拷贝技术、页缓存，以及批量发送与数据压缩</text></g>
<g id="B3"><path class="u" d="M244 401H260"/><use href="#mk" x="244" y="398.4"/><text class="t" x="246.4" y="400.2" textLength="13.6" lengthAdjust="spacingAndGlyphs">ZK的作用</text></g>
<g id="B3-1"><path class="u" d="M267 390H296"/><text class="t" x="267" y="389.2" textLength="29" lengthAdjust="spacingAndGlyphs">Controller选举</text></g>
<g id="B3-2"><path class="u" d="M267 397H296"/><text class="t" x="267" y="396.2" textLength="29" lengthAdjust="spacingAndGlyphs">管理broker上下线</text></g>
<g id="B3-3"><path class="u" d="M267 405H328"/><text class="t" x="267" y="404.2" textLength="61" lengthAdjust="spacingAndGlyphs">所有topic的分区副本分配和leader选举</text></g>
<g id="B3-4"><path class="u" d="M267 412H322"/><text class="t" x="267" y="411.2" textLength="55" lengthAdjust="spacingAndGlyphs">Controller的工作依赖于Zookeeper</text></g>
</g>

<g id="R3-nodes">
<g id="C"><path class="u" d="M228 431H236"/><use href="#mk" x="228" y="428.4"/><text class="t" x="230.4" y="430.2" textLength="5.6" lengthAdjust="spacingAndGlyphs">生产</text></g>
<g id="C-1"><path class="u" d="M243 421H272"/><text class="t" x="243" y="420.2" textLength="29" lengthAdjust="spacingAndGlyphs">消息发送流程</text></g>
<g id="C-2"><path class="u" d="M243 428H272"/><text class="t" x="243" y="427.2" textLength="29" lengthAdjust="spacingAndGlyphs">异步发送API</text></g>
<g id="C1"><path class="u" d="M243 438H255"/><use href="#mk" x="243" y="435.4"/><text class="t" x="245.4" y="437.2" textLength="9.6" lengthAdjust="spacingAndGlyphs">同步发送</text></g>
<g id="C1-1"><path class="u" d="M262 434H328"/><text class="t" x="262" y="433.2" textLength="66" lengthAdjust="spacingAndGlyphs">消息发送后阻塞当前线程，直至返回ack</text></g>
<g id="C1-2"><path class="u" d="M262 442H338"/><text class="t" x="262" y="441.2" textLength="76" lengthAdjust="spacingAndGlyphs">send返回Future对象，调用get方法即可</text></g>
<g id="D"><path class="u" d="M228 474H241"/><use href="#mk" x="228" y="471.4"/><text class="t" x="230.4" y="473.2" textLength="10.6" lengthAdjust="spacingAndGlyphs">消费者</text></g>
<g id="D-1"><path class="u" d="M247 450H297"/><text class="t" x="247" y="449.2" textLength="50" lengthAdjust="spacingAndGlyphs">自动提交：enable.auto.commit</text></g>
<g id="D1"><path class="u" d="M245 462H268"/><use href="#mk" x="245" y="459.4"/><text class="t" x="247.4" y="461.2" textLength="20.6" lengthAdjust="spacingAndGlyphs">手动提交offset</text></g>
<g id="D1-1"><path class="u" d="M282 457H318"/><text class="t" x="282" y="456.2" textLength="36" lengthAdjust="spacingAndGlyphs">同步提交commitSync</text></g>
<g id="D1-2"><path class="u" d="M282 467H310"/><text class="t" x="282" y="466.2" textLength="28" lengthAdjust="spacingAndGlyphs">commitAsync</text></g>
<g id="D2"><path class="u" d="M245 478H258"/><use href="#mk" x="245" y="475.4"/><text class="t" x="247.4" y="477.2" textLength="10.6" lengthAdjust="spacingAndGlyphs">自定义</text></g>
<g id="D2-1"><path class="u" d="M264 474H292"/><text class="t" x="264" y="473.2" textLength="28" lengthAdjust="spacingAndGlyphs">RebalanceListener</text></g>
<g id="D2-2"><path class="u" d="M264 482H292"/><text class="t" x="264" y="481.2" textLength="28" lengthAdjust="spacingAndGlyphs">offset存储到MySQL</text></g>
<g id="D3"><path class="u" d="M245 496H262"/><use href="#mk" x="245" y="493.4"/><text class="t" x="247.4" y="495.2" textLength="14.6" lengthAdjust="spacingAndGlyphs">重复消费</text></g>
<g id="D3-1"><path class="u" d="M268 488H295"/><text class="t" x="268" y="487.2" textLength="27" lengthAdjust="spacingAndGlyphs">先提交后消费</text></g>
<g id="D3-2"><path class="u" d="M268 496H285"/><text class="t" x="268" y="495.2" textLength="17" lengthAdjust="spacingAndGlyphs">漏消费</text></g>
<g id="D3-3"><path class="u" d="M268 504H303"/><text class="t" x="268" y="503.2" textLength="35" lengthAdjust="spacingAndGlyphs">先消费后提交offset</text></g>
<g id="E"><path class="u" d="M228 532H250"/><use href="#mk" x="228" y="529.4"/><text class="t" x="230.4" y="531.2" textLength="19.6" lengthAdjust="spacingAndGlyphs">自定义拦截器</text></g>
<g id="E-1"><path class="u" d="M253 511H283"/><text class="t" x="253" y="510.2" textLength="30" lengthAdjust="spacingAndGlyphs">拦截器原理</text></g>
<g id="E1"><path class="u" d="M253 532H288"/><use href="#mk" x="253" y="529.4"/><text class="t" x="255.4" y="531.2" textLength="32.6" lengthAdjust="spacingAndGlyphs">拦截器案例 时间戳与计数</text></g>
<g id="E1a"><path class="u" d="M293 524H308"/><use href="#mk" x="293" y="521.4"/><text class="t" x="295.4" y="523.2" textLength="12.6" lengthAdjust="spacingAndGlyphs">需求</text></g>
<g id="E1a-1"><path class="u" d="M312 519H323"/><text class="t" x="312" y="518.2" textLength="11" lengthAdjust="spacingAndGlyphs">时间戳</text></g>
<g id="E1a-2"><path class="u" d="M312 528H324"/><text class="t" x="312" y="527.2" textLength="12" lengthAdjust="spacingAndGlyphs">计数</text></g>
<g id="E1b"><path class="u" d="M293 532H307"/><use href="#mk" x="293" y="529.4"/><text class="t" x="295.4" y="531.2" textLength="11.6" lengthAdjust="spacingAndGlyphs">实现</text></g>
<g id="E1b-1"><path class="u" d="M311 532H392"/><text class="t" x="311" y="531.2" textLength="48" lengthAdjust="spacingAndGlyphs">时间戳拦截器与计数拦截器</text></g>
<g id="E1c"><path class="u" d="M293 542H305"/><use href="#mk" x="293" y="539.4"/><text class="t" x="295.4" y="541.2" textLength="9.6" lengthAdjust="spacingAndGlyphs">测试</text></g>
<g id="E1c-1"><path class="u" d="M311 542H393"/><text class="t" x="311" y="541.2" textLength="48" lengthAdjust="spacingAndGlyphs">配置interceptor.classes后测试</text></g>
<g id="E2"><path class="u" d="M253 552H265"/><use href="#mk" x="253" y="549.4"/><text class="t" x="255.4" y="551.2" textLength="9.6" lengthAdjust="spacingAndGlyphs">Flume</text></g>
<g id="E2-1"><path class="u" d="M268 548H295"/><text class="t" x="268" y="547.2" textLength="27" lengthAdjust="spacingAndGlyphs">KafkaSink配置</text></g>
<g id="E2-2"><path class="u" d="M268 557H322"/><text class="t" x="268" y="556.2" textLength="54" lengthAdjust="spacingAndGlyphs">flume采集数据发送到kafka的topic</text></g>
</g>

<g id="watermark"><text x="362" y="547" font-family="Noto Sans CJK SC, Noto Sans, sans-serif" font-size="13.5" fill="#ffffff" fill-opacity=".92">知乎 @CARROT</text></g>
</svg>
